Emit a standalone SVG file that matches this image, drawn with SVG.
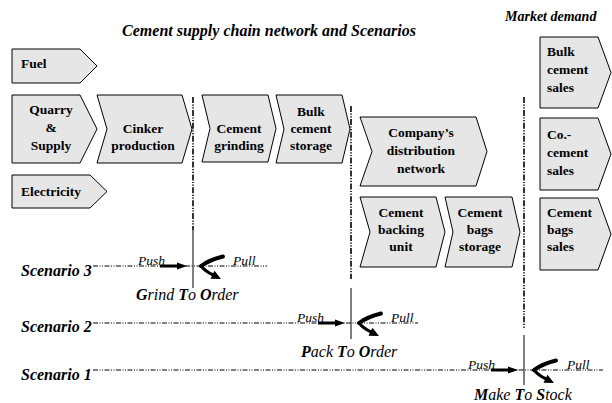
<svg xmlns="http://www.w3.org/2000/svg" xmlns:xlink="http://www.w3.org/1999/xlink" width="612" height="403" viewBox="0 0 612 403">
<style>
.box{fill:#e6e6e6;stroke:#000;stroke-width:1}
.t{font-family:"Liberation Serif","Times New Roman",Times,"DejaVu Serif",serif;font-weight:bold;font-size:13.5px;fill:#000}
.c{text-anchor:middle}
.it{font-family:"Liberation Serif","Times New Roman",Times,"DejaVu Serif",serif;font-style:italic;fill:#000}
.sc{font-weight:bold;font-size:16px}
.pp{font-size:13.5px}
.ord{font-size:16px}
.b{font-weight:bold}
.dd{fill:none;stroke:#000;stroke-width:1;stroke-dasharray:5 1.5 1 1.5 1 1.5}
.vd{fill:none;stroke:#000;stroke-width:1.6;stroke-dasharray:6 1.5 1.2 1.5 1.2 1.5}
.vs{fill:none;stroke:#000;stroke-width:1}
</style>
<defs>
<g id="push">
<line x1="-33" y1="0" x2="-14" y2="0" stroke="#000" stroke-width="3"/>
<polygon points="-16,-3.5 -6,0 -16,3.5" fill="#000"/>
</g>
<g id="pull">
<path d="M30,-9.5 Q16,-6 8,0" fill="none" stroke="#000" stroke-width="4" stroke-linecap="round"/>
<path d="M8,0 Q12,5 19.5,8.7" fill="none" stroke="#000" stroke-width="3" stroke-linecap="round"/>
<polygon points="28,13 17.5,12.7 21.5,4.7" fill="#000"/>
</g>
</defs>

<text class="it b" x="269" y="36" font-size="16" text-anchor="middle">Cement supply chain network and Scenarios</text>
<text class="it b" x="505" y="21" font-size="14">Market demand</text>

<g id="fuel"><polygon class="box" points="12,49 80,49 97,66 80,83 12,83"/><text class="t" x="21" y="68">Fuel</text></g>
<g id="quarry"><polygon class="box" points="12,95 80,95 97,129 80,163 12,163"/>
<text class="t c" x="51" y="114">Quarry</text><text class="t c" x="51" y="132">&amp;</text><text class="t c" x="51" y="150">Supply</text></g>
<g id="cinker"><polygon class="box" points="97,95 182,95 192,129 182,163 97,163 107,129"/>
<text class="t c" x="143" y="133">Cinker</text><text class="t c" x="143" y="150">production</text></g>
<g id="electricity"><polygon class="box" points="12,175 90,175 107,191.5 90,208 12,208"/><text class="t" x="21" y="196">Electricity</text></g>
<g id="grinding"><polygon class="box" points="202,95 268,95 276,128.5 268,162 202,162 210,128.5"/>
<text class="t c" x="239" y="133">Cement</text><text class="t c" x="239" y="150">grinding</text></g>
<g id="bulkstorage"><polygon class="box" points="276,95 342,95 350,129 342,163 276,163 284,129"/>
<text class="t c" x="311" y="116">Bulk</text><text class="t c" x="311" y="133">cement</text><text class="t c" x="311" y="150">storage</text></g>
<g id="distribution"><polygon class="box" points="360,117 476,117 487,151.5 476,186 360,186 372,151.5"/>
<text class="t c" x="421" y="137">Company’s</text><text class="t c" x="421" y="155">distribution</text><text class="t c" x="421" y="173">network</text></g>
<g id="backing"><polygon class="box" points="360,197 436,197 445,232 436,267 360,267 370,232"/>
<text class="t c" x="401" y="217">Cement</text><text class="t c" x="401" y="234">backing</text><text class="t c" x="401" y="251">unit</text></g>
<g id="bagsstorage"><polygon class="box" points="445,197 512,197 520,232 512,267 445,267 453,232"/>
<text class="t c" x="480" y="217">Cement</text><text class="t c" x="480" y="234">bags</text><text class="t c" x="480" y="251">storage</text></g>
<g id="bulksales"><polygon class="box" points="540,37 598,37 611,72.5 598,108 540,108"/>
<text class="t" x="547" y="56">Bulk</text><text class="t" x="547" y="74">cement</text><text class="t" x="547" y="92">sales</text></g>
<g id="cosales"><polygon class="box" points="540,118 598,118 611,154 598,190 540,190"/>
<text class="t" x="547" y="139">Co.-</text><text class="t" x="547" y="157">cement</text><text class="t" x="547" y="175">sales</text></g>
<g id="bagssales"><polygon class="box" points="540,198 598,198 611,234 598,270 540,270"/>
<text class="t" x="547" y="217">Cement</text><text class="t" x="547" y="234">bags</text><text class="t" x="547" y="251">sales</text></g>

<g id="connectors">
<line class="vd" x1="193" y1="97" x2="193" y2="230"/>
<line class="vs" x1="193" y1="230" x2="193" y2="288"/>
<line class="vd" x1="351" y1="106" x2="351" y2="279"/>
<line class="vs" x1="351" y1="288" x2="351" y2="339"/>
<line class="vd" x1="524" y1="97" x2="524" y2="329"/>
<line class="vs" x1="524" y1="335" x2="524" y2="385"/>
<line class="dd" x1="93" y1="266" x2="267" y2="266"/>
<line class="dd" x1="93" y1="323" x2="418" y2="323"/>
<line class="dd" x1="93" y1="370" x2="603" y2="370"/>
<use xlink:href="#push" x="193" y="266"/>
<use xlink:href="#pull" x="193" y="266"/>
<use xlink:href="#push" x="351" y="323"/>
<use xlink:href="#pull" x="351" y="323"/>
<use xlink:href="#push" x="524" y="370"/>
<use xlink:href="#pull" x="526" y="370"/>
</g>

<g id="scenario3">
<text class="it sc" x="21" y="276">Scenario 3</text>
<text class="it pp" x="138" y="265">Push</text>
<text class="it pp" x="233" y="265">Pull</text>
<text class="it ord" x="136" y="300"><tspan class="b">G</tspan>rind <tspan class="b">T</tspan>o <tspan class="b">O</tspan>rder</text>
</g>
<g id="scenario2">
<text class="it sc" x="21" y="332">Scenario 2</text>
<text class="it pp" x="297" y="322">Push</text>
<text class="it pp" x="391" y="322">Pull</text>
<text class="it ord" x="301" y="357"><tspan class="b">P</tspan>ack <tspan class="b">T</tspan>o <tspan class="b">O</tspan>rder</text>
</g>
<g id="scenario1">
<text class="it sc" x="21" y="380">Scenario 1</text>
<text class="it pp" x="468" y="369">Push</text>
<text class="it pp" x="567" y="369">Pull</text>
<text class="it ord" x="474" y="400"><tspan class="b">M</tspan>ake <tspan class="b">T</tspan>o <tspan class="b">S</tspan>tock</text>
</g>
</svg>
